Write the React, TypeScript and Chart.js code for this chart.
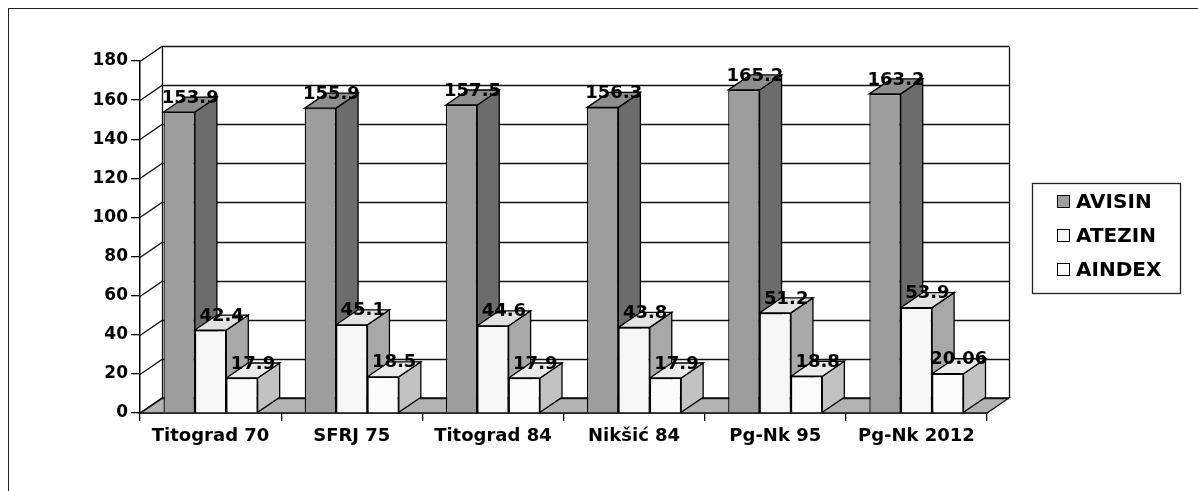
import React, { useEffect, useRef } from "react";
import { Chart, registerables } from "chart.js";

Chart.register(...registerables);

const categories = ["Titograd 70", "SFRJ 75", "Titograd 84", "Nikšić 84", "Pg-Nk 95", "Pg-Nk 2012"];
const seriesNames = ["AVISIN", "ATEZIN", "AINDEX"];
const avisin = [153.9, 155.9, 157.5, 156.3, 165.2, 163.2];
const atezin = [42.4, 45.1, 44.6, 43.8, 51.2, 53.9];
const aindex = [17.9, 18.5, 17.9, 17.9, 18.8, 20.06];
const yTicks = [0, 20, 40, 60, 80, 100, 120, 140, 160, 180];

const FONT = "'DejaVu Sans', 'Liberation Sans', Arial, sans-serif";
const FRONT = ["#9d9d9d", "#f6f6f6", "#fbfbfb"];
const SIDE = ["#6c6c6c", "#a8a8a8", "#c2c2c2"];
const TOP = ["#8e8e8e", "#e2e2e2", "#eaeaea"];
const FLOOR = "#b3b3b3";
const DX = 22;
const DY = -15;

function poly(ctx: CanvasRenderingContext2D, pts: number[][], fill: string | null, stroke: string | null, lw = 1.3) {
  ctx.beginPath();
  ctx.moveTo(pts[0][0], pts[0][1]);
  for (let i = 1; i < pts.length; i++) ctx.lineTo(pts[i][0], pts[i][1]);
  ctx.closePath();
  if (fill) {
    ctx.fillStyle = fill;
    ctx.fill();
  }
  if (stroke) {
    ctx.strokeStyle = stroke;
    ctx.lineWidth = lw;
    ctx.stroke();
  }
}

const threeD = {
  id: "threeD",
  beforeDatasetsDraw(chart: any) {
    const ctx: CanvasRenderingContext2D = chart.ctx;
    const { left, right, bottom } = chart.chartArea;
    const ys = chart.scales.y;
    ctx.save();
    poly(ctx, [[left, bottom], [right, bottom], [right + DX, bottom + DY], [left + DX, bottom + DY]], FLOOR, "#111");
    ctx.strokeStyle = "#111";
    ctx.lineWidth = 1.3;
    for (const v of yTicks) {
      const py = Math.round(ys.getPixelForValue(v)) + 0.5;
      ctx.beginPath();
      ctx.moveTo(left, py);
      ctx.lineTo(left + DX, py + DY);
      ctx.lineTo(right + DX, py + DY);
      ctx.stroke();
    }
    const yTop = Math.round(ys.getPixelForValue(180)) + 0.5 + DY;
    ctx.beginPath();
    ctx.moveTo(left + DX + 0.5, bottom + DY);
    ctx.lineTo(left + DX + 0.5, yTop);
    ctx.moveTo(right + DX + 0.5, bottom + DY);
    ctx.lineTo(right + DX + 0.5, yTop);
    ctx.stroke();
    const n = chart.data.labels.length;
    for (let i = 0; i < n; i++) {
      for (let d = 0; d < chart.data.datasets.length; d++) {
        const el = chart.getDatasetMeta(d).data[i];
        const p = el.getProps(["x", "y", "width", "base"], true);
        const l = p.x - p.width / 2;
        const r = p.x + p.width / 2;
        const ty = p.y;
        const b = p.base;
        poly(ctx, [[r, ty], [r + DX, ty + DY], [r + DX, b + DY], [r, b]], SIDE[d], "#000");
        poly(ctx, [[l, ty], [r, ty], [r + DX, ty + DY], [l + DX, ty + DY]], TOP[d], "#000");
      }
    }
    ctx.restore();
  },
  afterDatasetsDraw(chart: any) {
    const ctx: CanvasRenderingContext2D = chart.ctx;
    ctx.save();
    ctx.fillStyle = "#000";
    ctx.font = `bold 18px ${FONT}`;
    ctx.textAlign = "center";
    ctx.textBaseline = "middle";
    chart.data.datasets.forEach((ds: any, d: number) => {
      chart.getDatasetMeta(d).data.forEach((el: any, i: number) => {
        const p = el.getProps(["x", "y"], true);
        ctx.fillText(String(ds.data[i]), p.x + DX / 2, p.y + DY + 1);
      });
    });
    ctx.restore();
  },
  afterDraw(chart: any) {
    const ctx: CanvasRenderingContext2D = chart.ctx;
    ctx.save();
    ctx.strokeStyle = "#222";
    ctx.lineWidth = 1;
    ctx.strokeRect(8.5, 8.5, 1400, 700);
    ctx.lineWidth = 1.3;
    ctx.strokeRect(1032.5, 183.5, 148, 110);
    ctx.font = `bold 20px ${FONT}`;
    ctx.textAlign = "left";
    ctx.textBaseline = "middle";
    const rows = [202, 236, 270];
    chart.data.datasets.forEach((ds: any, d: number) => {
      const cy = rows[d];
      ctx.fillStyle = FRONT[d];
      ctx.fillRect(1057.5, cy - 6.5, 12, 12);
      ctx.strokeStyle = "#000";
      ctx.lineWidth = 1;
      ctx.strokeRect(1057.5, cy - 6.5, 12, 12);
      ctx.fillStyle = "#000";
      ctx.fillText(ds.label, 1076, cy + 1);
    });
    ctx.restore();
  },
};

export default function App() {
  const ref = useRef<HTMLCanvasElement | null>(null);
  useEffect(() => {
    document.body.style.margin = "0";
    document.body.style.overflow = "hidden";
    const canvas = ref.current!;
    const chart = new Chart(canvas, {
      type: "bar",
      data: {
        labels: categories,
        datasets: [
          { label: seriesNames[0], data: avisin, backgroundColor: FRONT[0], borderColor: "#000", borderWidth: 1.3 },
          { label: seriesNames[1], data: atezin, backgroundColor: FRONT[1], borderColor: "#000", borderWidth: 1.3 },
          { label: seriesNames[2], data: aindex, backgroundColor: FRONT[2], borderColor: "#000", borderWidth: 1.3 },
        ],
      },
      options: {
        responsive: false,
        animation: false,
        devicePixelRatio: 1,
        layout: { padding: { top: 61, right: 211, left: 0, bottom: 0 } },
        datasets: { bar: { barPercentage: 1, categoryPercentage: 0.667 } },
        plugins: { legend: { display: false }, tooltip: { enabled: false } },
        scales: {
          x: {
            z: 1,
            grid: { drawOnChartArea: false, drawTicks: true, tickLength: 8, color: "#000", lineWidth: 1.3, offset: true },
            border: { display: true, color: "#000", width: 1.5 },
            ticks: { color: "#000", font: { family: FONT, size: 18, weight: "bold" }, padding: 5, maxRotation: 0, autoSkip: false },
            afterFit: (s: any) => {
              s.height = 78;
            },
          },
          y: {
            z: 1,
            min: 0,
            max: 180,
            grid: { drawOnChartArea: false, drawTicks: true, tickLength: 9, color: "#000", lineWidth: 1.3 },
            border: { display: true, color: "#000", width: 1.5 },
            ticks: { stepSize: 20, color: "#000", font: { family: FONT, size: 17, weight: "bold" }, padding: 3 },
            afterFit: (s: any) => {
              s.width = 140;
            },
          },
        },
      },
      plugins: [threeD],
    } as any);
    return () => chart.destroy();
  }, []);
  return <canvas ref={ref} width={1198} height={491} style={{ display: "block" }} />;
}
